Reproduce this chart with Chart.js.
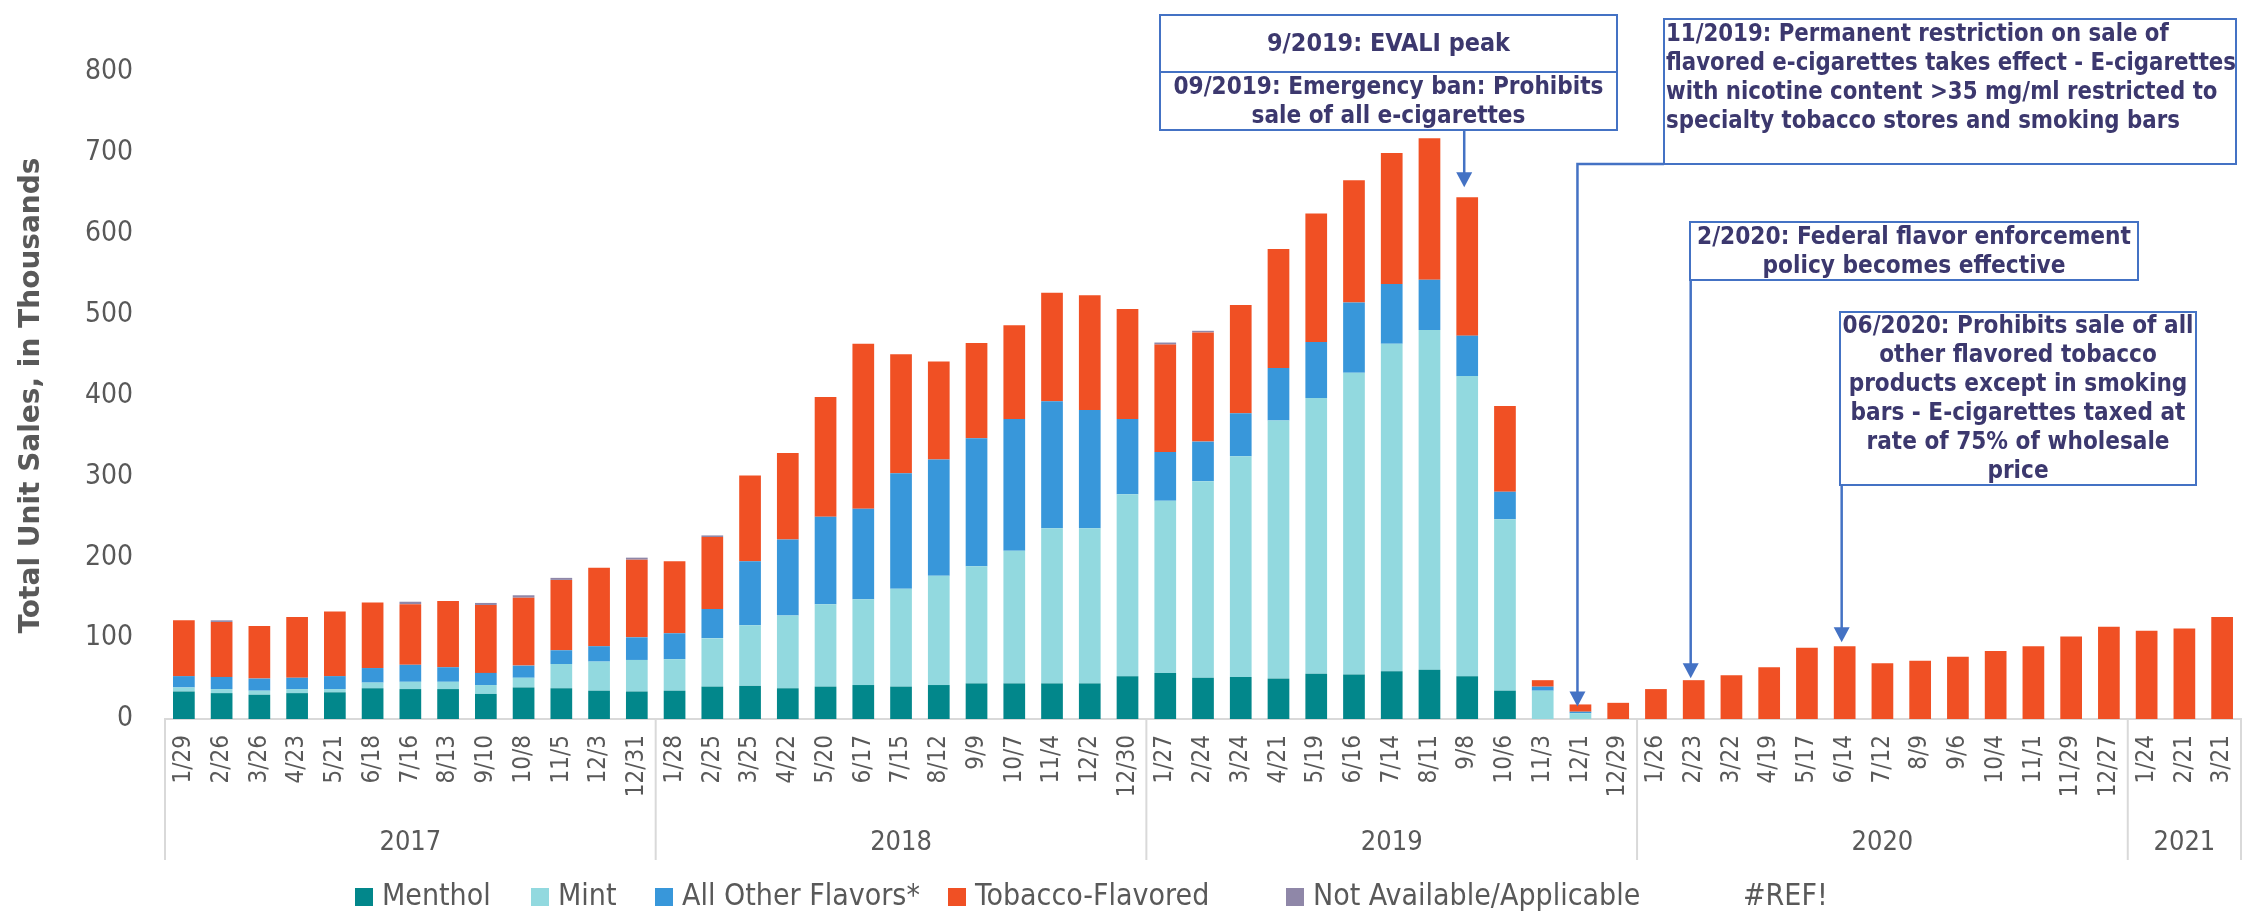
<!DOCTYPE html>
<html>
<head>
<meta charset="utf-8">
<title>E-cigarette unit sales by flavor</title>
<script src="https://cdn.jsdelivr.net/npm/chart.js@4.4.1/dist/chart.umd.min.js"></script>
<style>
  html, body { margin: 0; padding: 0; background: #fff; }
  #wrap { position: relative; width: 2248px; height: 911px; }
</style>
</head>
<body>
<div id="wrap"><canvas id="salesChart"></canvas></div>
<script>
// 4-week periods (end dates), grouped by year
const weeks = [
    '1/29', '2/26', '3/26', '4/23', '5/21', '6/18', '7/16', '8/13', '9/10', '10/8', '11/5', '12/3', '12/31',
    '1/28', '2/25', '3/25', '4/22', '5/20', '6/17', '7/15', '8/12', '9/9', '10/7', '11/4', '12/2', '12/30',
    '1/27', '2/24', '3/24', '4/21', '5/19', '6/16', '7/14', '8/11', '9/8', '10/6', '11/3', '12/1', '12/29',
    '1/26', '2/23', '3/22', '4/19', '5/17', '6/14', '7/12', '8/9', '9/6', '10/4', '11/1', '11/29', '12/27',
    '1/24', '2/21', '3/21'
];
const years = ['2017', '2018', '2019', '2020', '2021'];
const weeksPerYear = [13, 13, 13, 13, 3];

// unit sales, thousands
const menthol = [
    34, 32, 30, 32, 33, 38, 37, 37, 31, 39, 38, 35, 34,
    35, 40, 41, 38, 40, 42, 40, 42, 44, 44, 44, 44, 53,
    57, 51, 52, 50, 56, 55, 59, 61, 53, 35, 0, 0, 0,
    0, 0, 0, 0, 0, 0, 0, 0, 0, 0, 0, 0, 0,
    0, 0, 0
];
const mint = [
    5, 5, 5, 5, 4, 7, 9, 9, 11, 12, 30, 36, 39,
    39, 60, 75, 90, 102, 106, 121, 135, 145, 164, 192, 192, 225,
    213, 243, 273, 319, 341, 373, 405, 420, 371, 212, 35, 7, 0,
    0, 0, 0, 0, 0, 0, 0, 0, 0, 0, 0, 0, 0,
    0, 0, 0
];
const otherFlavors = [
    14, 15, 15, 14, 16, 18, 21, 18, 15, 15, 17, 19, 28,
    32, 36, 79, 94, 108, 112, 143, 144, 158, 163, 157, 146, 93,
    60, 49, 53, 65, 69, 87, 74, 62, 50, 34, 5, 2, 0,
    0, 0, 0, 0, 0, 0, 0, 0, 0, 0, 0, 0, 0,
    0, 0, 0
];
const tobacco = [
    69, 68, 65, 75, 80, 81, 75, 82, 84, 84, 87, 97, 96,
    89, 89, 106, 107, 148, 204, 147, 121, 118, 116, 134, 142, 136,
    133, 135, 134, 147, 159, 151, 162, 175, 171, 106, 8, 9, 20,
    37, 48, 54, 64, 88, 90, 69, 72, 77, 84, 90, 102, 114,
    109, 112, 126
];
const notAvailable = [
    0, 2, 0, 0, 0, 0, 3, 0, 2.5, 3, 2.5, 0, 2.5,
    0, 2, 0, 0, 0, 0, 0, 0, 0, 0, 0, 0, 0,
    2.5, 2, 0, 0, 0, 0, 0, 0, 0, 0, 0, 0, 0,
    0, 0, 0, 0, 0, 0, 0, 0, 0, 0, 0, 0, 0,
    0, 0, 0
];
const legendExtra = ['#REF!'];

// policy notes
const notes = [
    { lines: ['9/2019: EVALI peak'], box: [1160, 15, 457, 57], textWidth: 243 },
    { lines: ['09/2019: Emergency ban: Prohibits', 'sale of all e-cigarettes'],
      box: [1160, 72, 457, 58], textWidth: 430, target: '9/8', arrow: 'down', gap: 10 },
    { lines: ['11/2019: Permanent restriction on sale of',
              'flavored e-cigarettes takes effect - E-cigarettes',
              'with nicotine content >35 mg/ml restricted to',
              'specialty tobacco stores and smoking bars'],
      box: [1664, 19, 572, 145], textWidth: 570, align: 'left', valign: 'top',
      target: '12/1', arrow: 'elbow', gap: -2 },
    { lines: ['2/2020: Federal flavor enforcement', 'policy becomes effective'],
      box: [1690, 222, 448, 58], textWidth: 434, target: '2/23', arrow: 'side', gap: 2 },
    { lines: ['06/2020: Prohibits sale of all', 'other flavored tobacco', 'products except in smoking',
              'bars - E-cigarettes taxed at', 'rate of 75% of wholesale', 'price'],
      box: [1840, 312, 356, 173], textWidth: 351, target: '6/14', arrow: 'down', gap: 4 }
];

const FONT = "'DejaVu Sans Condensed', 'DejaVu Sans', sans-serif";
const AXIS_GRAY = '#595959';
const NOTE_BLUE = '#4472C4';

const totals = weeks.map((_, i) => menthol[i] + mint[i] + otherFlavors[i] + tobacco[i] + notAvailable[i]);

// year row under the week labels
const yearAxisPlugin = {
    id: 'yearAxis',
    afterDraw(chart) {
        const { ctx, chartArea } = chart;
        const step = (chartArea.right - chartArea.left) / weeks.length;
        const edge = i => chartArea.left + i * step;
        const top = chartArea.bottom;
        ctx.save();
        ctx.strokeStyle = '#D9D9D9';
        ctx.lineWidth = 2;
        ctx.fillStyle = AXIS_GRAY;
        ctx.font = `27px ${FONT}`;
        ctx.textAlign = 'center';
        ctx.textBaseline = 'middle';
        let start = 0;
        const sep = x => {
            ctx.beginPath();
            ctx.moveTo(x, top);
            ctx.lineTo(x, top + 141);
            ctx.stroke();
        };
        years.forEach((yr, g) => {
            const end = start + weeksPerYear[g];
            sep(edge(start));
            ctx.fillText(yr, (edge(start) + edge(end)) / 2, top + 124);
            start = end;
        });
        sep(edge(start));
        ctx.restore();
    }
};

// legend row at the bottom
const legendPlugin = {
    id: 'flavorLegend',
    afterDraw(chart) {
        const ctx = chart.ctx;
        const items = chart.data.datasets.map(d => ({ label: d.label, color: d.backgroundColor }))
            .concat(legendExtra.map(l => ({ label: l, color: null })));
        const slots = [355, 531, 655, 948, 1286, 1716];
        const cy = 897;
        ctx.save();
        ctx.font = `30px ${FONT}`;
        ctx.textBaseline = 'middle';
        items.forEach((it, i) => {
            const x = slots[i];
            if (it.color) {
                ctx.fillStyle = it.color;
                ctx.fillRect(x, cy - 9, 18, 18);
            }
            ctx.fillStyle = AXIS_GRAY;
            ctx.fillText(it.label, x + 27, cy);
        });
        ctx.restore();
    }
};

function arrowHead(ctx, x, y) {
    ctx.beginPath();
    ctx.moveTo(x, y);
    ctx.lineTo(x - 8, y - 15);
    ctx.lineTo(x + 8, y - 15);
    ctx.closePath();
    ctx.fill();
}

// callout boxes + arrows
const notesPlugin = {
    id: 'policyNotes',
    afterDraw(chart) {
        const { ctx, scales } = chart;
        ctx.save();
        notes.forEach(n => {
            const [bx, by, bw, bh] = n.box;

            if (n.target) {
                const idx = weeks.indexOf(n.target);
                const tx = scales.x.getPixelForValue(idx) - 3;
                const tipY = scales.y.getPixelForValue(totals[idx]) - n.gap;
                ctx.strokeStyle = NOTE_BLUE;
                ctx.fillStyle = NOTE_BLUE;
                ctx.lineWidth = 2.5;
                ctx.beginPath();
                if (n.arrow === 'elbow') {
                    ctx.moveTo(bx, by + bh);
                    ctx.lineTo(tx, by + bh);
                } else if (n.arrow === 'side') {
                    ctx.moveTo(tx, by + bh * 0.78);
                } else {
                    ctx.moveTo(tx, by + bh);
                }
                ctx.lineTo(tx, tipY - 12);
                ctx.stroke();
                arrowHead(ctx, tx, tipY);
            }

            ctx.fillStyle = '#fff';
            ctx.fillRect(bx, by, bw, bh);
            ctx.strokeStyle = NOTE_BLUE;
            ctx.lineWidth = 2;
            ctx.strokeRect(bx, by, bw, bh);

            ctx.font = `bold 24px ${FONT}`;
            ctx.fillStyle = '#3C386E';
            ctx.textBaseline = 'middle';
            const widest = Math.max(...n.lines.map(l => ctx.measureText(l).width));
            const sx = n.textWidth / widest;
            const lineH = 29;
            const firstY = n.valign === 'top'
                ? by + 16
                : by + bh / 2 - (n.lines.length - 1) * lineH / 2 + 1;
            n.lines.forEach((line, i) => {
                ctx.save();
                if (n.align === 'left') {
                    ctx.textAlign = 'left';
                    ctx.translate(bx + 2, firstY + i * lineH);
                } else {
                    ctx.textAlign = 'center';
                    ctx.translate(bx + bw / 2, firstY + i * lineH);
                }
                ctx.scale(sx, 1);
                ctx.fillText(line, 0, 0);
                ctx.restore();
            });
        });
        ctx.restore();
    }
};

const ctx = document.getElementById('salesChart').getContext('2d');

new Chart(ctx, {
    type: 'bar',
    data: {
        labels: weeks,
        datasets: [
            { label: 'Menthol', data: menthol, backgroundColor: '#02878B' },
            { label: 'Mint', data: mint, backgroundColor: '#92D9DF' },
            { label: 'All Other Flavors*', data: otherFlavors, backgroundColor: '#3897DA' },
            { label: 'Tobacco-Flavored', data: tobacco, backgroundColor: '#F05024' },
            { label: 'Not Available/Applicable', data: notAvailable, backgroundColor: '#8F87A8' }
        ]
    },
    options: {
        responsive: true,
        maintainAspectRatio: false,
        animation: false,
        layout: { padding: { top: 72, right: 7, left: 0, bottom: 0 } },
        datasets: {
            bar: { categoryPercentage: 1.0, barPercentage: 0.575, borderWidth: 0 }
        },
        plugins: {
            legend: { display: false },
            tooltip: { enabled: false }
        },
        scales: {
            x: {
                stacked: true,
                grid: { display: false, drawTicks: false },
                border: { display: true, color: '#D9D9D9', width: 2 },
                ticks: {
                    autoSkip: false,
                    minRotation: 90,
                    maxRotation: 90,
                    padding: 16,
                    color: AXIS_GRAY,
                    font: { family: FONT, size: 24 }
                },
                afterFit: scale => {
                    scale.height = 192;
                    // keep the plot running to the right edge
                    scale.paddingLeft = 0;
                    scale.paddingRight = 0;
                }
            },
            y: {
                stacked: true,
                min: 0,
                max: 800,
                grid: { display: false, drawTicks: false },
                border: { display: false },
                ticks: {
                    stepSize: 100,
                    padding: 32,
                    color: AXIS_GRAY,
                    font: { family: FONT, size: 28 }
                },
                title: {
                    display: true,
                    text: 'Total Unit Sales, in Thousands',
                    color: AXIS_GRAY,
                    font: { family: "'DejaVu Sans', sans-serif", size: 28, weight: 'bold' },
                    padding: { top: 15, bottom: 0 }
                },
                afterFit: scale => { scale.width = 165; }
            }
        }
    },
    plugins: [yearAxisPlugin, legendPlugin, notesPlugin]
});
</script>
</body>
</html>
